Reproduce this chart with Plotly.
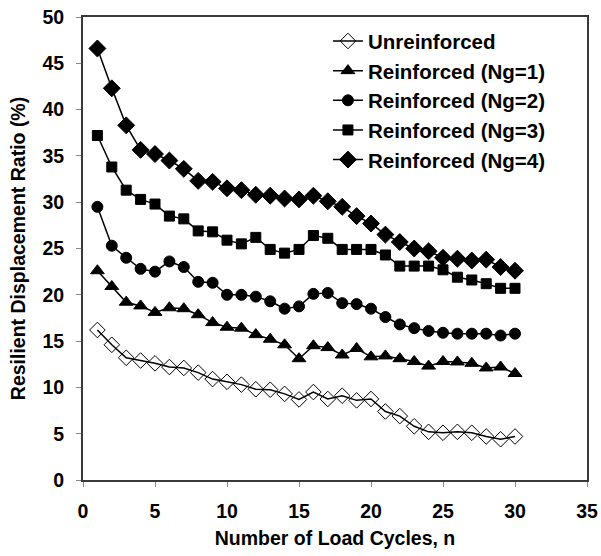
import plotly.graph_objects as go

# Load cycle number
cycles = list(range(1, 31))

# Resilient displacement ratio (%) for each test series
unreinforced = [16.2, 14.6, 13.2, 12.9, 12.6, 12.2, 12.1, 11.6, 10.9, 10.6,
                10.3, 9.8, 9.75, 9.3, 8.7, 9.5, 8.75, 9.1, 8.6, 8.75,
                7.4, 6.9, 5.8, 5.2, 5.1, 5.2, 5.1, 4.7, 4.4, 4.7]
ng1 = [22.6, 20.9, 19.2, 18.8, 18.1, 18.6, 18.5, 17.85, 17.0, 16.5,
       16.4, 15.7, 15.2, 14.6, 13.1, 14.5, 14.3, 13.5, 14.2, 13.3,
       13.4, 13.1, 12.8, 12.3, 12.8, 12.75, 12.6, 12.1, 12.2, 11.5]
ng2 = [29.5, 25.3, 24.0, 22.8, 22.5, 23.6, 23.0, 21.4, 21.3, 20.0,
       20.0, 19.8, 19.3, 18.5, 18.75, 20.1, 20.2, 19.1, 19.0, 18.5,
       17.6, 16.8, 16.4, 16.1, 15.9, 15.8, 15.8, 15.8, 15.6, 15.8]
ng3 = [37.2, 33.8, 31.3, 30.3, 29.8, 28.5, 28.2, 26.9, 26.8, 25.9,
       25.5, 26.2, 24.9, 24.5, 24.9, 26.4, 26.1, 24.9, 24.9, 24.9,
       24.3, 23.1, 23.1, 23.1, 22.7, 21.9, 21.6, 21.2, 20.7, 20.7]
ng4 = [46.6, 42.3, 38.3, 35.65, 35.2, 34.5, 33.6, 32.3, 32.2, 31.5,
       31.3, 30.8, 30.7, 30.4, 30.3, 30.7, 30.1, 29.5, 28.5, 27.7,
       26.5, 25.7, 25.0, 24.7, 24.0, 23.9, 23.7, 23.8, 23.0, 22.6]

series = [
    ("Unreinforced", unreinforced, "diamond-open", 12),
    ("Reinforced (Ng=1)", ng1, "triangle-up", 12),
    ("Reinforced (Ng=2)", ng2, "circle", 11),
    ("Reinforced (Ng=3)", ng3, "square", 10),
    ("Reinforced (Ng=4)", ng4, "diamond", 13),
]

FONT = "Liberation Sans, Arial, sans-serif"

fig = go.Figure()
for i, (name, vals, sym, size) in enumerate(series):
    fig.add_trace(go.Scatter(
        x=cycles, y=vals, name=name, mode="lines+markers",
        legendgroup=f"g{i}",
        line=dict(color="black", width=1.5),
        marker=dict(symbol=sym, size=size, color="black",
                    line=dict(color="black", width=1)),
    ))

axis_common = dict(
    showgrid=False, zeroline=False, automargin=False,
    showline=True, linecolor="#3a3a3a", linewidth=2, mirror=True,
    ticks="outside", ticklen=5, tickcolor="#8a8a8a", tickwidth=1,
    tickfont=dict(family=FONT, size=19.5, color="black", weight="bold"),
)

fig.update_layout(
    width=601, height=556,
    margin=dict(l=83, r=14, t=17, b=76, autoexpand=False),
    paper_bgcolor="white", plot_bgcolor="white",
    font=dict(family=FONT, color="black"),
    xaxis=dict(range=[0, 35], dtick=5, ticklabelstandoff=8,
               title=dict(text="Number of Load Cycles, n", standoff=10,
                          font=dict(family=FONT, size=19.5, weight="bold")),
               **axis_common),
    yaxis=dict(range=[0, 50], dtick=5, ticklabelstandoff=8,
               title=dict(text="Resilient Displacement Ratio (%)", standoff=12,
                          font=dict(family=FONT, size=19.5, weight="bold")),
               **axis_common),
    legend=dict(x=0.486, y=0.991, xanchor="left", yanchor="top",
                bgcolor="rgba(0,0,0,0)", itemwidth=30, tracegroupgap=0,
                font=dict(family=FONT, size=20.5, color="black", weight="bold")),
    showlegend=True,
)

fig.write_html("out.html")
